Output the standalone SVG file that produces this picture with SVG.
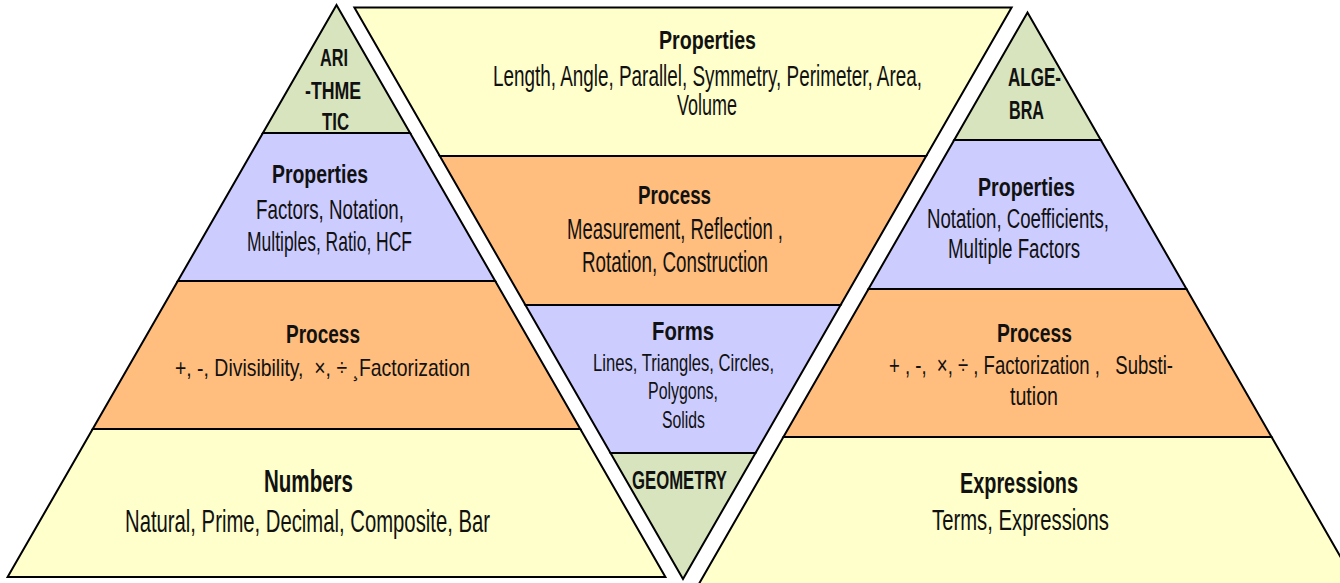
<svg xmlns="http://www.w3.org/2000/svg" width="1340" height="583" viewBox="0 0 1340 583">
<style>
.band{stroke:#000;stroke-width:2;stroke-linejoin:miter}
.g{fill:#D7E4BD}.p{fill:#CCCCFF}.o{fill:#FFBE7E}.y{fill:#FFFFCC}
text{font-family:"Liberation Sans Narrow","Liberation Sans",Arial,sans-serif;fill:#111}
.h{font-weight:bold}
</style>
<rect width="1340" height="583" fill="#fff"/>

<g id="arith-top">
<polygon class="band g" points="336.5,5 410.1,133 262.9,133"/>
<text class="h" x="320" y="66" font-size="24" textLength="28" lengthAdjust="spacingAndGlyphs">ARI</text>
<text class="h" x="305" y="99" font-size="24" textLength="56" lengthAdjust="spacingAndGlyphs">-THME</text>
<text class="h" x="322" y="130" font-size="24" textLength="27" lengthAdjust="spacingAndGlyphs">TIC</text>
</g>
<g id="arith-properties">
<polygon class="band p" points="262.9,133 410.1,133 495.2,281 177.8,281"/>
<text class="h" x="272" y="183" font-size="26" textLength="96" lengthAdjust="spacingAndGlyphs">Properties</text>
<text x="256" y="219" font-size="28" textLength="148" lengthAdjust="spacingAndGlyphs">Factors, Notation,</text>
<text x="247" y="251" font-size="28" textLength="165" lengthAdjust="spacingAndGlyphs">Multiples, Ratio, HCF</text>
</g>
<g id="arith-process">
<polygon class="band o" points="177.8,281 495.2,281 580.3,429 92.7,429"/>
<text class="h" x="286" y="343" font-size="25" textLength="74" lengthAdjust="spacingAndGlyphs">Process</text>
<text x="175" y="376" font-size="24" textLength="295" lengthAdjust="spacingAndGlyphs" xml:space="preserve">+, -, Divisibility,  ×, ÷ ¸Factorization</text>
</g>
<g id="arith-numbers">
<polygon class="band y" points="92.7,429 580.3,429 665.4,577 7.6,577"/>
<text class="h" x="264" y="492" font-size="32" textLength="89" lengthAdjust="spacingAndGlyphs">Numbers</text>
<text x="125" y="532" font-size="32" textLength="365" lengthAdjust="spacingAndGlyphs">Natural, Prime, Decimal, Composite, Bar</text>
</g>

<g id="geo-properties">
<polygon class="band y" points="354.4,7.5 1011.6,7.5 926.2,156 439.8,156"/>
<text class="h" x="659" y="49" font-size="26.5" textLength="97" lengthAdjust="spacingAndGlyphs">Properties</text>
<text transform="translate(493,86) scale(1,1.6)" x="0" y="0" font-size="18" textLength="429" lengthAdjust="spacingAndGlyphs">Length, Angle, Parallel, Symmetry, Perimeter, Area,</text>
<text x="677" y="115" font-size="29" textLength="60" lengthAdjust="spacingAndGlyphs">Volume</text>
</g>
<g id="geo-process">
<polygon class="band o" points="439.8,156 926.2,156 840.6,305 525.4,305"/>
<text class="h" x="638" y="204" font-size="25" textLength="73" lengthAdjust="spacingAndGlyphs">Process</text>
<text x="567" y="239" font-size="29" textLength="216" lengthAdjust="spacingAndGlyphs" xml:space="preserve">Measurement, Reflection ,</text>
<text x="582" y="272" font-size="29" textLength="186" lengthAdjust="spacingAndGlyphs">Rotation, Construction</text>
</g>
<g id="geo-forms">
<polygon class="band p" points="525.4,305 840.6,305 755.5,453 610.5,453"/>
<text class="h" x="652" y="340" font-size="26.5" textLength="62" lengthAdjust="spacingAndGlyphs">Forms</text>
<text x="593" y="371" font-size="24.5" textLength="181" lengthAdjust="spacingAndGlyphs">Lines, Triangles, Circles,</text>
<text x="648" y="399" font-size="24.5" textLength="70" lengthAdjust="spacingAndGlyphs">Polygons,</text>
<text x="662" y="428" font-size="24.5" textLength="43" lengthAdjust="spacingAndGlyphs">Solids</text>
</g>
<g id="geo-bottom">
<polygon class="band g" points="610.5,453 755.5,453 683,579"/>
<text class="h" x="632" y="489" font-size="26.5" textLength="95" lengthAdjust="spacingAndGlyphs">GEOMETRY</text>
</g>

<g id="alg-top">
<polygon class="band g" points="1027.5,12.5 1100.8,140 954.2,140"/>
<text class="h" x="1008" y="86" font-size="25" textLength="53" lengthAdjust="spacingAndGlyphs">ALGE-</text>
<text class="h" x="1009" y="119" font-size="25" textLength="35" lengthAdjust="spacingAndGlyphs">BRA</text>
</g>
<g id="alg-properties">
<polygon class="band p" points="954.2,140 1100.8,140 1186.5,289 868.5,289"/>
<text class="h" x="978" y="196" font-size="26.5" textLength="97" lengthAdjust="spacingAndGlyphs">Properties</text>
<text x="927" y="228" font-size="27" textLength="182" lengthAdjust="spacingAndGlyphs">Notation, Coefficients,</text>
<text x="948" y="258" font-size="27" textLength="132" lengthAdjust="spacingAndGlyphs">Multiple Factors</text>
</g>
<g id="alg-process">
<polygon class="band o" points="868.5,289 1186.5,289 1271.6,437 783.4,437"/>
<text class="h" x="997" y="342" font-size="25" textLength="75" lengthAdjust="spacingAndGlyphs">Process</text>
<text x="889" y="374" font-size="26.5" textLength="284" lengthAdjust="spacingAndGlyphs" xml:space="preserve">+ , -,  ×, ÷ , Factorization ,   Substi-</text>
<text x="1010" y="405" font-size="26.5" textLength="48" lengthAdjust="spacingAndGlyphs">tution</text>
</g>
<g id="alg-expressions">
<polygon class="band y" points="783.4,437 1271.6,437 1356.7,585 698.3,585"/>
<text class="h" x="960" y="493" font-size="29" textLength="118" lengthAdjust="spacingAndGlyphs">Expressions</text>
<text x="932" y="530" font-size="30" textLength="177" lengthAdjust="spacingAndGlyphs">Terms, Expressions</text>
</g>

<g id="connectors"/>
</svg>
